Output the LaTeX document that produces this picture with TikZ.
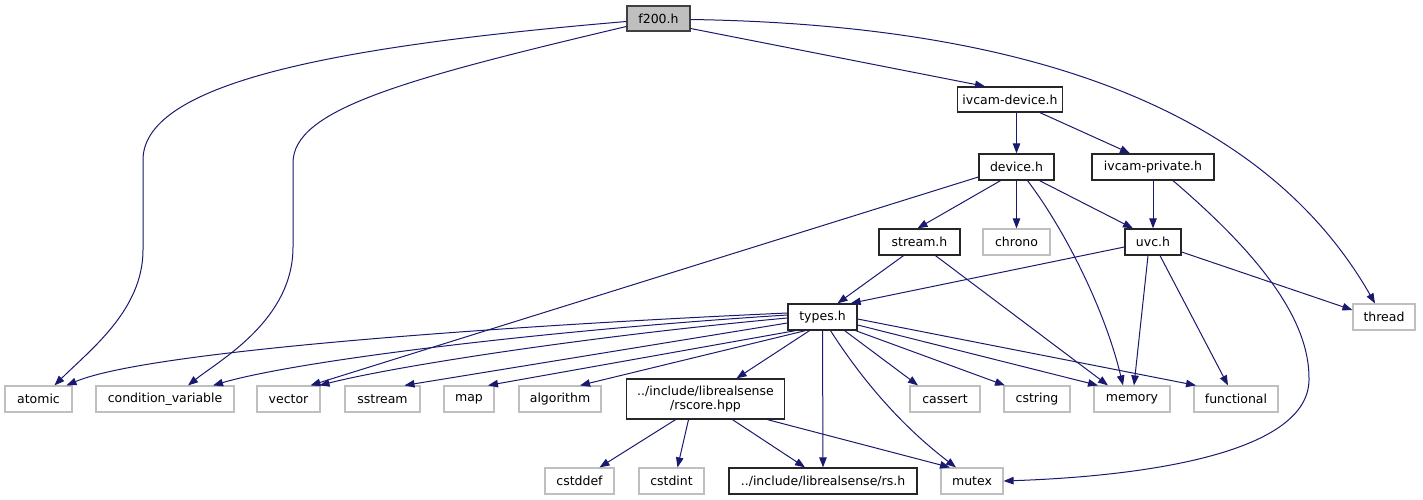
\documentclass[tikz,border=0pt]{standalone}
\usepackage{fontspec}
\setmainfont{DejaVu Sans}
\usetikzlibrary{arrows.meta}
\definecolor{edgecol}{HTML}{191970}
\definecolor{graybd}{HTML}{BFBFBF}
\definecolor{darkbd}{HTML}{404040}
\tikzset{
  base/.style={rectangle, inner sep=0pt, minimum height=26pt, font=\fontsize{12.5}{14.5}\selectfont, align=center},
  blk/.style={base, draw=black!85, line width=1.3pt},
  gry/.style={base, draw=graybd, line width=1.2pt},
  cur/.style={base, draw=darkbd, fill=graybd, line width=1.3pt},
  edge/.style={draw=edgecol, line width=1pt, -{Triangle[length=10pt,width=7.5pt]}, fill=none},
}
\begin{document}
\begin{tikzpicture}[x=1pt,y=-1pt]
\useasboundingbox (0,0) rectangle (1423,500);
% nodes
\node[cur, minimum width=63pt, minimum height=25pt] (f200) at (658.5,18.5) {f200.h};
\node[blk, minimum width=105pt, minimum height=25pt] (ivdev) at (1010,99.5) {ivcam-device.h};
\node[blk, minimum width=75pt] (device) at (1016.5,167) {device.h};
\node[blk, minimum width=122pt] (ivpriv) at (1153,167) {ivcam-private.h};
\node[blk, minimum width=81pt] (stream) at (919.5,242) {stream.h};
\node[gry, minimum width=67pt] (chrono) at (1016.5,242) {chrono};
\node[blk, minimum width=56pt] (uvc) at (1153,242) {uvc.h};
\node[gry, minimum width=62pt] (thread) at (1384,317) {thread};
\node[blk, minimum width=69pt] (types) at (822.5,317) {types.h};
\node[gry, minimum width=67pt] (atomic) at (38.5,399) {atomic};
\node[gry, minimum width=138pt] (condvar) at (165,399) {condition\_variable};
\node[gry, minimum width=63pt] (vector) at (288.5,399) {vector};
\node[gry, minimum width=75pt] (sstream) at (382.5,399) {sstream};
\node[gry, minimum width=50pt] (map) at (469,399) {map};
\node[gry, minimum width=82pt] (algorithm) at (560,399) {algorithm};
\node[blk, minimum width=158pt, minimum height=40pt] (rscore) at (705.5,399) {../include/librealsense\\/rscore.hpp};
\node[gry, minimum width=70pt] (cassert) at (945,399) {cassert};
\node[gry, minimum width=66pt] (cstring) at (1037,399) {cstring};
\node[gry, minimum width=76pt] (memory) at (1132,399) {memory};
\node[gry, minimum width=84pt] (functional) at (1236,399) {functional};
\node[gry, minimum width=69pt] (cstddef) at (579.5,481) {cstddef};
\node[gry, minimum width=65pt] (cstdint) at (671.5,481) {cstdint};
\node[blk, minimum width=188pt] (rsh) at (823,481) {../include/librealsense/rs.h};
\node[gry, minimum width=62pt] (mutex) at (972,481) {mutex};
% edges from f200
\draw[edge] ([yshift=-3pt]f200.west) .. controls (350,45) and (143,80) .. (143,160) -- (143,250) .. controls (143,310) and (90,350) .. ([xshift=16pt]atomic.north);
\draw[edge] ([yshift=-8pt]f200.west) .. controls (400,80) and (293,110) .. (293,163) -- (293,247) .. controls (293,320) and (220,360) .. ([xshift=23pt]condvar.north);
\draw[edge] ([yshift=-10pt]f200.east) -- ([xshift=-25pt]ivdev.north);
\draw[edge] ([yshift=-1pt]f200.east) .. controls (1050,25) and (1270,120) .. ([xshift=-9pt]thread.north);
% ivcam-device
\draw[edge] ([xshift=6.5pt]ivdev.south) -- (device.north);
\draw[edge] ([xshift=30pt]ivdev.south) -- ([xshift=-23pt]ivpriv.north);
% device
\draw[edge] ([yshift=-10pt]device.west) -- ([xshift=22pt]vector.north);
\draw[edge] ([xshift=-16pt]device.south) -- ([xshift=-2pt]stream.north);
\draw[edge] (device.south) -- (chrono.north);
\draw[edge] ([xshift=11pt]device.south) .. controls (1065,230) and (1105,310) .. ([xshift=-9pt]memory.north);
\draw[edge] ([xshift=23pt]device.south) -- ([xshift=-20pt]uvc.north);
% ivcam-private
\draw[edge] (ivpriv.south) -- (uvc.north);
\draw[edge] ([xshift=20pt]ivpriv.south) .. controls (1260,255) and (1310,320) .. (1309,380) .. controls (1308,452) and (1150,476) .. (mutex.east);
% stream
\draw[edge] ([xshift=-16pt]stream.south) -- ([xshift=15pt]types.north);
\draw[edge] ([xshift=16pt]stream.south) -- ([xshift=-24pt]memory.north);
% uvc
\draw[edge] ([yshift=-5pt]uvc.west) -- ([xshift=-7pt]types.north east);
\draw[edge] ([yshift=-10pt]uvc.east) -- ([yshift=7pt]thread.west);
\draw[edge] ([xshift=-5pt]uvc.south) -- ([xshift=2pt]memory.north);
\draw[edge] ([xshift=7pt]uvc.south) -- ([xshift=-8pt]functional.north);
% types
\draw[edge] ([yshift=4pt]types.west) .. controls (520,325) and (150,350) .. ([xshift=28pt]atomic.north);
\draw[edge] ([yshift=2pt]types.west) .. controls (550,330) and (300,360) .. ([xshift=48pt]condvar.north);
\draw[edge] ([yshift=-1pt]types.west) .. controls (600,335) and (400,365) .. ([xshift=31pt]vector.north);
\draw[edge] ([yshift=-6pt]types.west) -- ([xshift=22pt]sstream.north);
\draw[edge] ([xshift=8pt]types.south west) -- ([xshift=19pt]map.north);
\draw[edge] ([xshift=18pt]types.south west) -- ([xshift=20pt]algorithm.north);
\draw[edge] ([xshift=-13pt]types.south) -- ([xshift=31pt]rscore.north);
\draw[edge] (types.south) -- (rsh.north);
\draw[edge] ([xshift=8pt]types.south) .. controls (875,400) and (920,440) .. ([xshift=-16pt]mutex.north);
\draw[edge] ([xshift=-13pt]types.south east) -- ([xshift=-27pt]cassert.north);
\draw[edge] ([xshift=-2pt]types.south east) -- ([xshift=-32pt]cstring.north);
\draw[edge] ([yshift=-8pt]types.east) -- ([xshift=-34pt]memory.north);
\draw[edge] ([yshift=-2pt]types.east) -- ([xshift=-40pt]functional.north);
% rscore
\draw[edge] ([xshift=-30pt]rscore.south) -- ([xshift=20pt]cstddef.north);
\draw[edge] ([xshift=-17pt]rscore.south) -- ([xshift=6pt]cstdint.north);
\draw[edge] ([xshift=27pt]rscore.south) -- ([xshift=-18pt]rsh.north);
\draw[edge] ([xshift=62pt]rscore.south) -- ([xshift=-22pt]mutex.north);
\end{tikzpicture}
\end{document}
